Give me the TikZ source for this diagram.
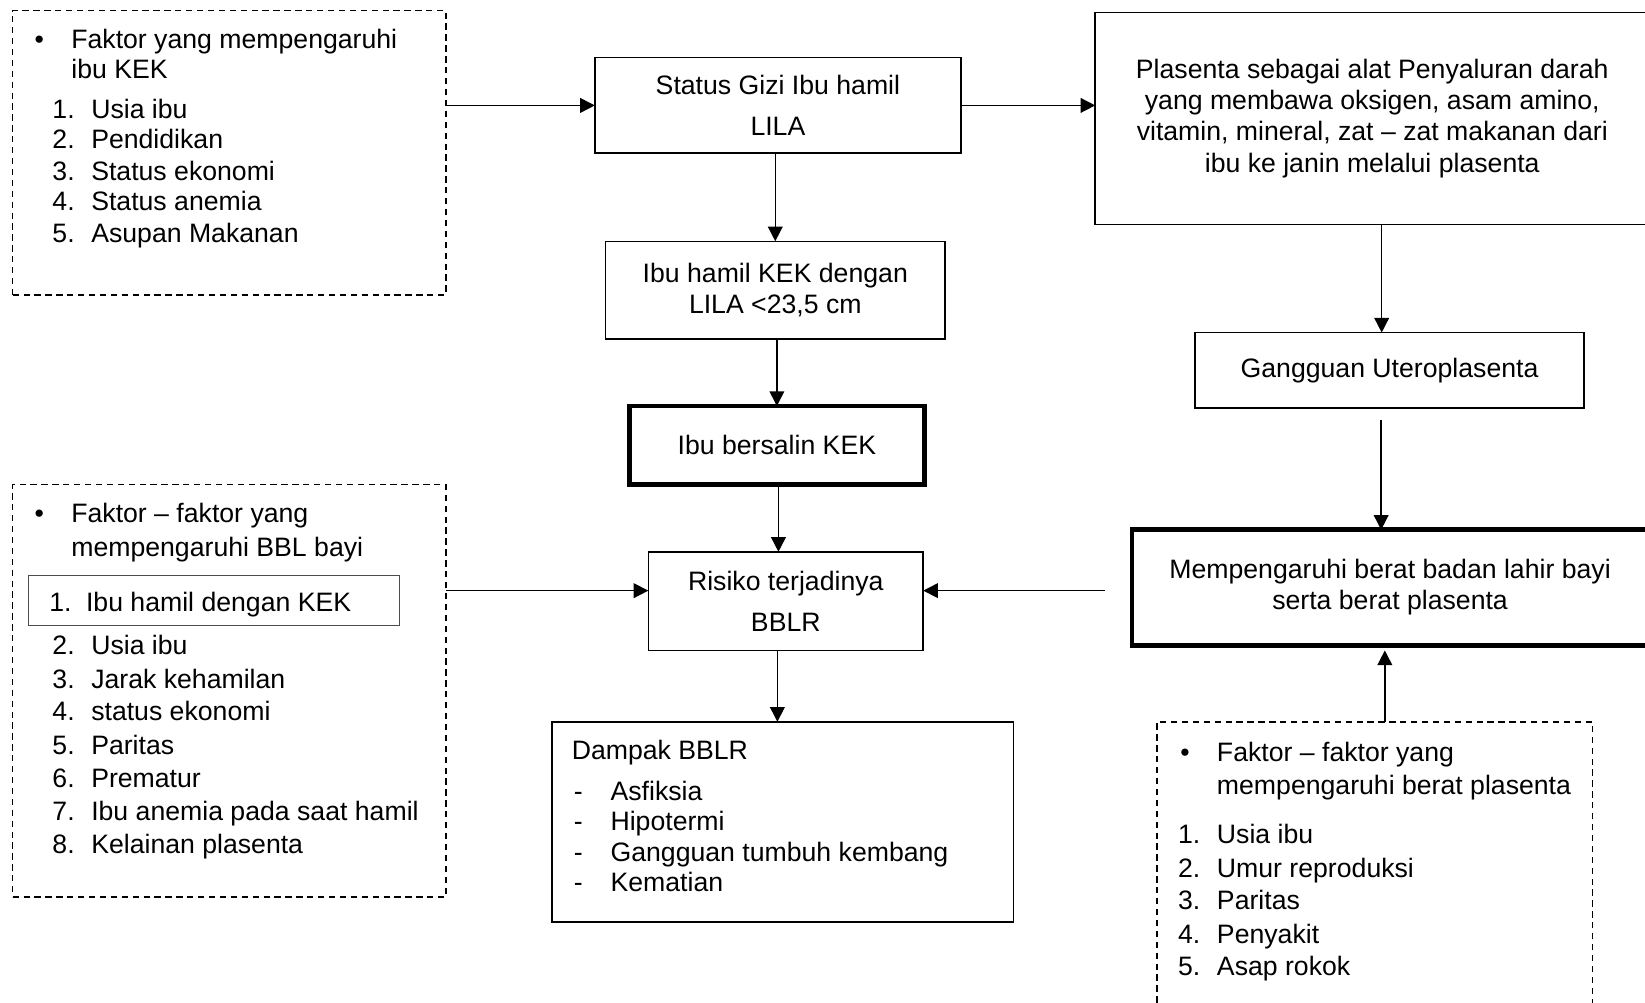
\documentclass[tikz,border=0pt]{standalone}
\usepackage{fontspec}
\setmainfont{Liberation Sans}
\usetikzlibrary{arrows.meta}
\begin{document}
\begin{tikzpicture}[x=0.5pt,y=-0.5pt,
  every node/.style={font=\fontsize{12.7}{14.8}\selectfont, outer sep=0pt},
  box/.style={draw, line width=0.75pt, inner sep=0pt, align=center},
  thickbox/.style={box, line width=2.2pt},
  dbox/.style={draw, line width=0.75pt, dash pattern=on 3pt off 2.2pt, inner sep=0pt},
  ibox/.style={draw=black!70, line width=0.5pt, inner sep=0pt},
  txt/.style={anchor=base west, inner sep=0pt},
  arr/.style={line width=0.75pt, -{Triangle[length=7pt,width=7pt]}}]
\useasboundingbox (0,0) rectangle (1568,956);
\clip (0,0) rectangle (1568,956);

% ---------- boxes ----------
\node[dbox, minimum width=206.5pt, minimum height=135.5pt] (A) at (218.5,145.5) {};
\node[box, minimum width=174.5pt, minimum height=45.5pt] (S) at (741.5,100.5) {Status Gizi Ibu hamil\\[4.7pt]LILA};
\node[box, minimum width=264pt, minimum height=101pt] (P) at (1308,113) {Plasenta sebagai alat Penyaluran darah\\yang membawa oksigen, asam amino,\\vitamin, mineral, zat -- zat makanan dari\\ibu ke janin melalui plasenta};
\node[box, minimum width=162pt, minimum height=46.5pt] (H) at (739,276.5) {Ibu hamil KEK dengan\\LILA <23,5 cm};
\node[box, minimum width=185.5pt, minimum height=36pt] (G) at (1324.5,353) {Gangguan Uteroplasenta};
\node[thickbox, minimum width=140.5pt, minimum height=37.5pt] (BK) at (740.5,424.5) {Ibu bersalin KEK};
\node[dbox, minimum width=206.5pt, minimum height=196.5pt] (LB) at (218.5,658.5) {};
\node[ibox, minimum width=177pt, minimum height=23.5pt] (IB) at (204,572.5) {};
\node[box, minimum width=131pt, minimum height=47pt] (R) at (749,573) {Risiko terjadinya\\[4.7pt]BBLR};
\node[thickbox, minimum width=246pt, minimum height=55pt] (M) at (1325,560) {Mempengaruhi berat badan lahir bayi\\serta berat plasenta};
\node[box, minimum width=220pt, minimum height=95.5pt] (D) at (746,783.5) {};
\node[dbox, minimum width=207.5pt, minimum height=151pt] (C) at (1310.5,839) {};

% ---------- texts: box A ----------
\node[txt] (a0) at (33,46) {•};
\node[txt] (a1) at (68,46) {Faktor yang mempengaruhi};
\node[txt] (a2) at (68,75) {ibu KEK};
\node[txt] (a3n) at (50,113) {1.};
\node[txt] (a3) at (87,113) {Usia ibu};
\node[txt] (a4n) at (50,142) {2.};
\node[txt] (a4) at (87,142) {Pendidikan};
\node[txt] (a5n) at (50,172) {3.};
\node[txt] (a5) at (87,172) {Status ekonomi};
\node[txt] (a6n) at (50,201) {4.};
\node[txt] (a6) at (87,201) {Status anemia};
\node[txt] (a7n) at (50,231) {5.};
\node[txt] (a7) at (87,231) {Asupan Makanan};

% ---------- texts: box LB ----------
\node[txt] (b0) at (33,498) {•};
\node[txt] (b1) at (68,498) {Faktor -- faktor yang};
\node[txt] (b2) at (68,530) {mempengaruhi BBL bayi};
\node[txt] (b3n) at (47,583) {1.};
\node[txt] (b3) at (82,583) {Ibu hamil dengan KEK};
\node[txt] (b4n) at (50,624) {2.};
\node[txt] (b4) at (87,624) {Usia ibu};
\node[txt] (b5n) at (50,656) {3.};
\node[txt] (b5) at (87,656) {Jarak kehamilan};
\node[txt] (b6n) at (50,687) {4.};
\node[txt] (b6) at (87,687) {status ekonomi};
\node[txt] (b7n) at (50,719) {5.};
\node[txt] (b7) at (87,719) {Paritas};
\node[txt] (b8n) at (50,751) {6.};
\node[txt] (b8) at (87,751) {Prematur};
\node[txt] (b9n) at (50,782) {7.};
\node[txt] (b9) at (87,782) {Ibu anemia pada saat hamil};
\node[txt] (b10n) at (50,814) {8.};
\node[txt] (b10) at (87,814) {Kelainan plasenta};

% ---------- texts: box D ----------
\node[txt] (d0) at (545,724) {Dampak BBLR};
\node[txt] (d1n) at (547,763) {-};
\node[txt] (d1) at (582,763) {Asfiksia};
\node[txt] (d2n) at (547,792) {-};
\node[txt] (d2) at (582,792) {Hipotermi};
\node[txt] (d3n) at (547,821) {-};
\node[txt] (d3) at (582,821) {Gangguan tumbuh kembang};
\node[txt] (d4n) at (547,850) {-};
\node[txt] (d4) at (582,850) {Kematian};

% ---------- texts: box C ----------
\node[txt] (c0) at (1125,726) {•};
\node[txt] (c1) at (1160,726) {Faktor -- faktor yang};
\node[txt] (c2) at (1160,757) {mempengaruhi berat plasenta};
\node[txt] (c3n) at (1123,804) {1.};
\node[txt] (c3) at (1160,804) {Usia ibu};
\node[txt] (c4n) at (1123,836) {2.};
\node[txt] (c4) at (1160,836) {Umur reproduksi};
\node[txt] (c5n) at (1123,867) {3.};
\node[txt] (c5) at (1160,867) {Paritas};
\node[txt] (c6n) at (1123,899) {4.};
\node[txt] (c6) at (1160,899) {Penyakit};
\node[txt] (c7n) at (1123,930) {5.};
\node[txt] (c7) at (1160,930) {Asap rokok};

% ---------- connectors ----------
\draw[arr] (A.east |- S.west) -- (S.west);
\draw[arr] (S.east) -- (S.east -| P.west);
\draw[arr] (H.north |- S.south) -- (H.north);
\draw[arr] (BK.north |- H.south) -- (BK.north);
\coordinate (gn) at ([xshift=-3.75pt]G.north);
\draw[arr] (gn |- P.south) -- (gn);
\coordinate (gs) at ([xshift=-4pt,yshift=-5.5pt]G.south);
\draw[arr] (gs) -- (gs |- M.north);
\coordinate (bs) at ([xshift=0.75pt]BK.south);
\draw[arr] (bs) -- (bs |- R.north);
\coordinate (rl) at ([yshift=5pt]R.west);
\draw[arr] (rl -| LB.east) -- (rl);
\coordinate (rr) at ([yshift=5pt]R.east);
\path (rr -| M.west) coordinate (mw);
\draw[arr] ([xshift=-13pt]mw) -- (rr);
\coordinate (rs) at ([xshift=-4pt]R.south);
\draw[arr] (rs) -- (rs |- D.north);
\coordinate (ms) at ([xshift=-2.5pt,yshift=-2.5pt]M.south);
\draw[arr] (ms |- C.north) -- (ms);
\end{tikzpicture}
\end{document}
